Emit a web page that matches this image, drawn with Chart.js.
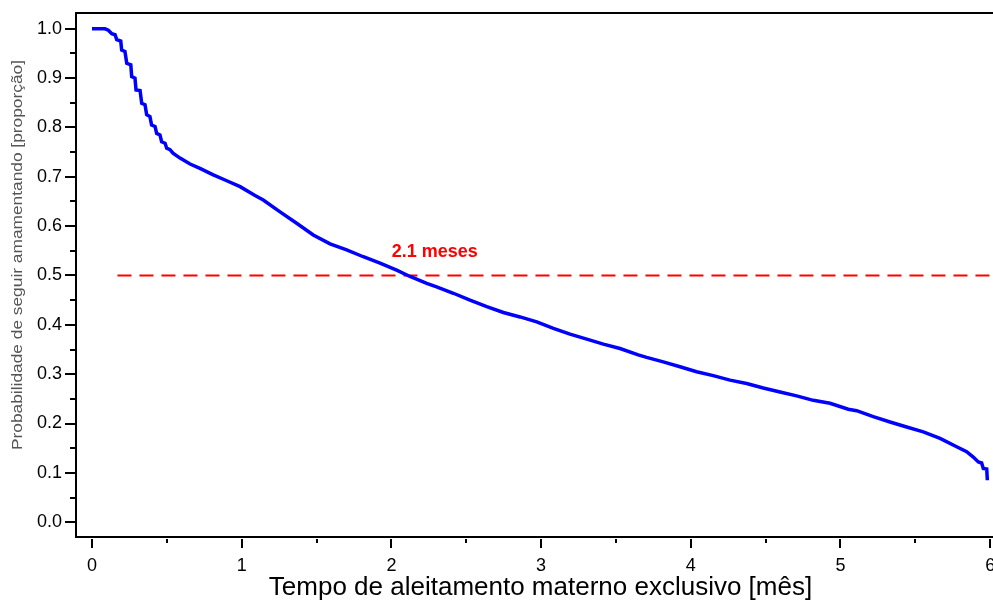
<!DOCTYPE html>
<html>
<head>
<meta charset="utf-8">
<script src="https://cdn.jsdelivr.net/npm/chart.js@4"></script>
<style>
  html, body { margin: 0; padding: 0; background: #fff; overflow: hidden; }
  #wrap { width: 1010px; height: 604px; }
</style>
</head>
<body>
<div id="wrap"><canvas id="kmChart"></canvas></div>
<script>
// Kaplan-Meier curve: time [months] and survival proportion
const tempo = [
    0.000, 0.087, 0.109, 0.132, 0.154, 0.165, 0.192, 0.198, 0.220, 0.232,
    0.259, 0.265, 0.287, 0.294, 0.321, 0.332, 0.354, 0.365, 0.387, 0.398,
    0.421, 0.432, 0.454, 0.465, 0.488, 0.499, 0.521, 0.541, 0.588, 0.655,
    0.721, 0.810, 0.900, 0.989, 1.089, 1.144, 1.256, 1.367, 1.478, 1.590,
    1.701, 1.812, 1.924, 2.035, 2.124, 2.236, 2.302, 2.414, 2.525, 2.637,
    2.748, 2.859, 2.971, 3.082, 3.193, 3.305, 3.416, 3.527, 3.649, 3.705,
    3.816, 3.928, 4.039, 4.150, 4.262, 4.373, 4.484, 4.596, 4.707, 4.818,
    4.930, 5.052, 5.108, 5.219, 5.331, 5.442, 5.553, 5.665, 5.776, 5.843,
    5.887, 5.921, 5.943, 5.954, 5.977, 5.981
];
const probabilidade = [
    1.000, 1.000, 0.997, 0.990, 0.988, 0.978, 0.975, 0.957, 0.954, 0.930,
    0.927, 0.903, 0.900, 0.876, 0.875, 0.849, 0.846, 0.826, 0.822, 0.805,
    0.802, 0.788, 0.785, 0.771, 0.768, 0.758, 0.755, 0.748, 0.738, 0.726,
    0.717, 0.704, 0.692, 0.680, 0.662, 0.653, 0.629, 0.606, 0.582, 0.564,
    0.552, 0.538, 0.525, 0.511, 0.498, 0.484, 0.477, 0.464, 0.450, 0.437,
    0.425, 0.416, 0.406, 0.393, 0.381, 0.371, 0.361, 0.352, 0.339, 0.334,
    0.325, 0.315, 0.305, 0.297, 0.288, 0.281, 0.272, 0.264, 0.256, 0.247,
    0.241, 0.229, 0.226, 0.214, 0.203, 0.193, 0.183, 0.170, 0.153, 0.143,
    0.132, 0.122, 0.120, 0.109, 0.108, 0.085
];

// median reference line
const medianaX = [0.17, 6.0];
const medianaY = [0.5, 0.5];
const medianaTexto = '2.1 meses';
const medianaTextoPos = { x: 2.29, y: 0.548 };

// tick values (majors carry labels, the rest are minor marks)
const xTicks = [0, 0.5, 1, 1.5, 2, 2.5, 3, 3.5, 4, 4.5, 5, 5.5, 6];
const xTickLabels = ['0', '1', '2', '3', '4', '5', '6'];
const yTicks = [0, 0.05, 0.1, 0.15, 0.2, 0.25, 0.3, 0.35, 0.4, 0.45, 0.5,
                0.55, 0.6, 0.65, 0.7, 0.75, 0.8, 0.85, 0.9, 0.95, 1.0];
const yTickLabels = ['0.0', '0.1', '0.2', '0.3', '0.4', '0.5', '0.6', '0.7', '0.8', '0.9', '1.0'];

const yTitulo = 'Probabilidade de seguir amamentando [proporção]';
const FONT = "'Liberation Sans', Arial, sans-serif";

function xLabel(v) {
    const i = xTickLabels.indexOf(String(v));
    return i >= 0 ? xTickLabels[i] : '';
}
function yLabel(v) {
    const s = v.toFixed(2);
    return s.endsWith('0') ? yTickLabels[Math.round(v * 10)] : '';
}
// keep the plot box where the original has it: no extra room for end labels
function noPadding(scale) {
    scale.paddingTop = 0;
    scale.paddingBottom = 0;
    scale.paddingLeft = 0;
    scale.paddingRight = 0;
}

// tick marks, top frame line, y title and the median text
const decorPlugin = {
    id: 'decor',
    afterDraw(chart) {
        const { ctx, chartArea, scales } = chart;
        ctx.save();
        ctx.strokeStyle = '#000';
        ctx.lineWidth = 2;
        ctx.beginPath();
        ctx.moveTo(chartArea.left - 1, chartArea.top);
        ctx.lineTo(chartArea.right + 5, chartArea.top);
        ctx.stroke();

        scales.x.ticks.forEach(t => {
            const px = Math.round(scales.x.getPixelForValue(t.value));
            const len = xLabel(t.value) ? 9 : 4;
            ctx.beginPath();
            ctx.moveTo(px, chartArea.bottom + 2);
            ctx.lineTo(px, chartArea.bottom + 2 + len);
            ctx.stroke();
        });
        scales.y.ticks.forEach(t => {
            const py = Math.round(scales.y.getPixelForValue(t.value));
            const len = yLabel(t.value) ? 11 : 6;
            ctx.beginPath();
            ctx.moveTo(chartArea.left - len, py);
            ctx.lineTo(chartArea.left, py);
            ctx.stroke();
        });

        // y title: thin and stretched along the axis like the original
        ctx.save();
        ctx.translate(18, 255);
        ctx.rotate(-Math.PI / 2);
        ctx.font = '14px ' + FONT;
        const w = ctx.measureText(yTitulo).width;
        ctx.scale(390 / w, 1);
        ctx.fillStyle = '#555';
        ctx.textAlign = 'center';
        ctx.textBaseline = 'middle';
        ctx.fillText(yTitulo, 0, 0);
        ctx.restore();

        ctx.fillStyle = '#ff0000';
        ctx.font = 'bold 18px ' + FONT;
        ctx.textAlign = 'center';
        ctx.textBaseline = 'middle';
        ctx.fillText(medianaTexto,
            scales.x.getPixelForValue(medianaTextoPos.x),
            scales.y.getPixelForValue(medianaTextoPos.y));
        ctx.restore();
    }
};

new Chart(document.getElementById('kmChart'), {
    type: 'scatter',
    data: {
        datasets: [
            {
                label: 'Kaplan-Meier',
                data: tempo.map((t, i) => ({ x: t, y: probabilidade[i] })),
                showLine: true,
                borderColor: '#0000ff',
                borderWidth: 3.5,
                pointRadius: 0,
                tension: 0,
                fill: false
            },
            {
                label: 'Mediana',
                data: medianaX.map((t, i) => ({ x: t, y: medianaY[i] })),
                showLine: true,
                borderColor: '#ff0000',
                borderWidth: 2,
                borderDash: [14, 8],
                pointRadius: 0,
                fill: false
            }
        ]
    },
    options: {
        responsive: true,
        maintainAspectRatio: false,
        animation: false,
        layout: { padding: { top: 13, right: 5, left: 0, bottom: 0 } },
        plugins: {
            legend: { display: false },
            tooltip: { enabled: false }
        },
        scales: {
            x: {
                type: 'linear',
                min: -0.107,
                max: 6.099,
                afterBuildTicks: scale => { scale.ticks = xTicks.map(v => ({ value: v })); },
                afterFit: scale => { scale.height = 67; noPadding(scale); },
                grid: { display: false, drawTicks: false },
                border: { display: true, color: '#000', width: 2 },
                ticks: {
                    autoSkip: false,
                    maxRotation: 0,
                    padding: 18,
                    color: '#000',
                    font: { family: FONT, size: 18 },
                    callback: v => xLabel(v)
                },
                title: {
                    display: true,
                    text: 'Tempo de aleitamento materno exclusivo [mês]',
                    color: '#000',
                    font: { family: FONT, size: 26 },
                    padding: { top: 0, bottom: 1 }
                }
            },
            y: {
                type: 'linear',
                min: -0.03,
                max: 1.032,
                afterBuildTicks: scale => { scale.ticks = yTicks.map(v => ({ value: v })); },
                afterFit: scale => { scale.width = 76; noPadding(scale); },
                grid: { display: false, drawTicks: false },
                border: { display: true, color: '#000', width: 2 },
                ticks: {
                    autoSkip: false,
                    padding: 14,
                    color: '#000',
                    font: { family: FONT, size: 18 },
                    callback: v => yLabel(v)
                }
            }
        }
    },
    plugins: [decorPlugin]
});
</script>
</body>
</html>
